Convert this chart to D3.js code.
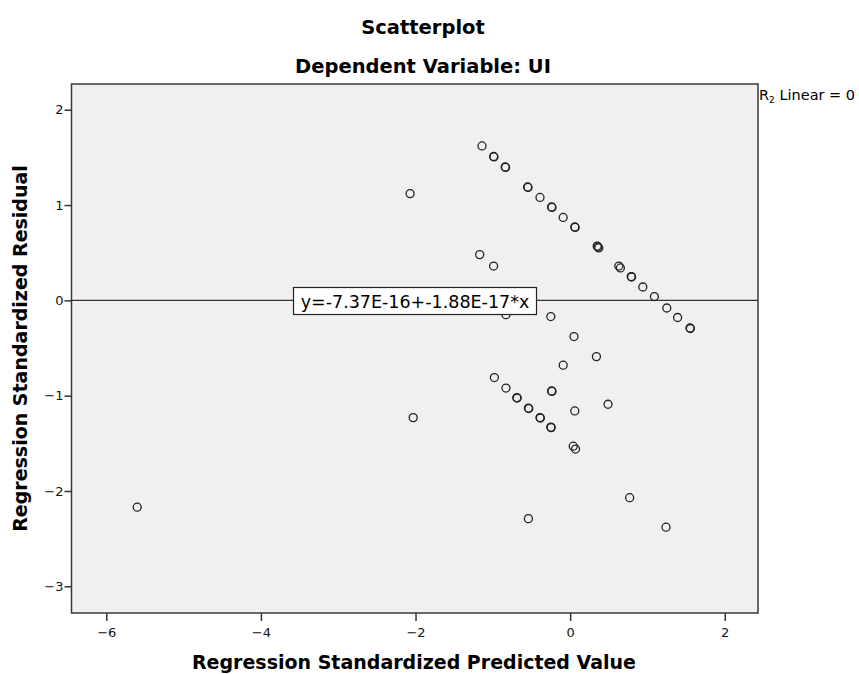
<!DOCTYPE html>
<html>
<head>
<meta charset="utf-8">
<script src="https://cdn.jsdelivr.net/npm/d3@7"></script>
<style>
  body { margin: 0; background: #fff; }
  text { font-family: "DejaVu Sans", sans-serif; }
</style>
</head>
<body>
<script>
// values
var predicted = [-5.60, -2.07, -2.03, -1.17, -0.99, -0.83, -0.25,
    -1.14, -0.99, -0.985, -0.84, -0.835, -0.55, -0.545, -0.39, -0.24, -0.235, -0.09,
    0.06, 0.065, 0.35, 0.36, 0.37, 0.63, 0.65, 0.79, 0.795, 0.94, 1.09, 1.25, 1.39, 1.55, 1.555,
    0.05, 0.34, -0.09, -0.98, -0.83, -0.69, -0.685, -0.54, -0.535, -0.39, -0.385,
    -0.25, -0.245, -0.24, -0.235, 0.06, 0.49, 0.04, 0.07, -0.54, 0.77, 1.24];
var residual = [-2.17, 1.12, -1.23, 0.48, 0.36, -0.15, -0.17,
    1.62, 1.51, 1.505, 1.40, 1.395, 1.19, 1.185, 1.08, 0.98, 0.975, 0.87,
    0.77, 0.765, 0.57, 0.56, 0.55, 0.36, 0.34, 0.25, 0.245, 0.14, 0.04, -0.08, -0.18, -0.29, -0.295,
    -0.38, -0.59, -0.68, -0.81, -0.92, -1.02, -1.025, -1.13, -1.135, -1.23, -1.235,
    -1.33, -1.335, -0.95, -0.955, -1.16, -1.09, -1.53, -1.56, -2.29, -2.07, -2.38];
var xTicks = [-6, -4, -2, 0, 2];
var yTicks = [-3, -2, -1, 0, 1, 2];
var fitIntercept = -7.37e-16, fitSlope = -1.88e-17;
var fitLabel = "y=-7.37E-16+-1.88E-17*x";

var points = predicted.map(function(p, i) { return { x: p, y: residual[i] }; });

var W = 859, H = 674;
var plotL = 71.5, plotT = 84, plotR = 758, plotB = 613;

var svg = d3.select("body").append("svg")
    .attr("width", W)
    .attr("height", H);

var x = d3.scaleLinear().domain([-6.45, 2.43]).range([plotL, plotR]);
var y = d3.scaleLinear().domain([-3.28, 2.27]).range([plotB, plotT]);

// plot background
svg.append("rect")
    .attr("x", plotL).attr("y", plotT)
    .attr("width", plotR - plotL).attr("height", plotB - plotT)
    .attr("fill", "#f0f0f0");

// axes
var xAxis = svg.append("g")
    .attr("transform", "translate(0," + plotB + ")")
    .call(d3.axisBottom(x).tickValues(xTicks).tickFormat(d3.format("d"))
        .tickSize(8).tickSizeOuter(0));
var yAxis = svg.append("g")
    .attr("transform", "translate(" + plotL + ",0)")
    .call(d3.axisLeft(y).tickValues(yTicks).tickFormat(d3.format("d"))
        .tickSize(7).tickSizeOuter(0));
[xAxis, yAxis].forEach(function(g) {
    g.select(".domain").remove();
    g.selectAll(".tick line").attr("stroke", "#333").attr("stroke-width", 1.5);
    g.selectAll(".tick text").attr("fill", "#111")
        .style("font-family", "DejaVu Sans").style("font-size", "13px");
});
xAxis.selectAll(".tick text").attr("dy", "1.0em");
yAxis.selectAll(".tick text").attr("x", -8);

// frame
svg.append("rect")
    .attr("x", plotL).attr("y", plotT)
    .attr("width", plotR - plotL).attr("height", plotB - plotT)
    .attr("fill", "none")
    .attr("stroke", "#3a3a3a")
    .attr("stroke-width", 1.5);

// fit line
svg.append("line")
    .attr("x1", x(x.domain()[0])).attr("x2", x(x.domain()[1]))
    .attr("y1", y(fitIntercept + fitSlope * x.domain()[0]))
    .attr("y2", y(fitIntercept + fitSlope * x.domain()[1]))
    .attr("stroke", "#333")
    .attr("stroke-width", 1.2);

// points
svg.selectAll("circle.pt")
    .data(points)
    .enter()
    .append("circle")
    .attr("class", "pt")
    .attr("cx", function(d) { return x(d.x); })
    .attr("cy", function(d) { return y(d.y); })
    .attr("r", 4)
    .attr("fill", "none")
    .attr("stroke", "#222")
    .attr("stroke-width", 1.3);

// equation label
var eqX = 293.5, eqY = 287.5;
var eqG = svg.append("g");
eqG.append("rect")
    .attr("x", eqX).attr("y", eqY)
    .attr("width", 243).attr("height", 27)
    .attr("fill", "#fff")
    .attr("stroke", "#222")
    .attr("stroke-width", 1.2);
eqG.append("text")
    .attr("x", eqX + 121.5).attr("y", eqY + 20)
    .attr("text-anchor", "middle")
    .style("font-size", "17.5px")
    .attr("fill", "#000")
    .text(fitLabel);

// R2 label
var r2 = svg.append("text")
    .attr("x", 759).attr("y", 100)
    .style("font-size", "14.5px")
    .attr("fill", "#000");
r2.append("tspan").text("R");
r2.append("tspan").attr("dy", 3).style("font-size", "9px").text("2");
r2.append("tspan").attr("dy", -3).text(" Linear = 0");

// titles
svg.append("text")
    .attr("x", 423).attr("y", 34)
    .attr("text-anchor", "middle")
    .style("font-size", "19.5px").style("font-weight", "bold")
    .text("Scatterplot");
svg.append("text")
    .attr("x", 423).attr("y", 73)
    .attr("text-anchor", "middle")
    .style("font-size", "19.5px").style("font-weight", "bold")
    .text("Dependent Variable: UI");

// axis titles
svg.append("text")
    .attr("x", 414).attr("y", 669)
    .attr("text-anchor", "middle")
    .style("font-size", "19px").style("font-weight", "bold")
    .text("Regression Standardized Predicted Value");
svg.append("text")
    .attr("transform", "translate(27," + ((plotT + plotB) / 2) + ") rotate(-90)")
    .attr("text-anchor", "middle")
    .style("font-size", "19px").style("font-weight", "bold")
    .text("Regression Standardized Residual");
</script>
</body>
</html>
